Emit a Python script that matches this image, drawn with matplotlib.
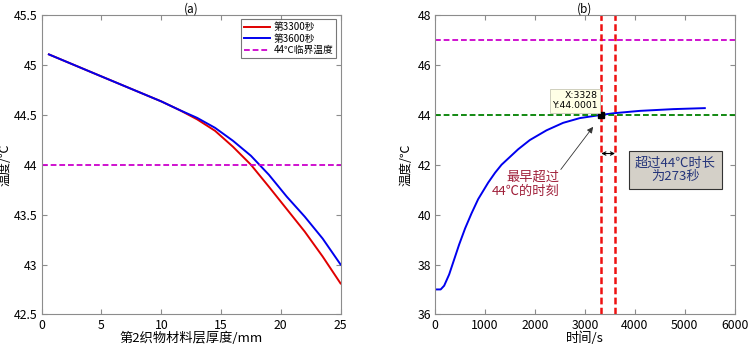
import numpy as np
import matplotlib.pyplot as plt
from matplotlib.ticker import FormatStrFormatter

plt.rcParams['font.family'] = ['Noto Sans CJK SC', 'DejaVu Sans']
plt.rcParams['axes.unicode_minus'] = False

# (a) temperature across layer 2 thickness
thick = [0.6, 5, 10, 11.5, 13, 14.5, 16, 17.5, 19, 20.5, 22, 23.5, 25]
temp_3300 = [45.106, 44.885, 44.635, 44.55, 44.455, 44.34, 44.18, 44.0, 43.78,
             43.555, 43.33, 43.08, 42.81]
temp_3600 = [45.106, 44.885, 44.635, 44.55, 44.47, 44.37, 44.24, 44.09, 43.90,
             43.68, 43.48, 43.26, 43.00]
crit_a = 44

# (b) temperature over time
t = [0, 60, 110, 180, 280, 380, 480, 600, 728, 861, 1061, 1200, 1329, 1662, 1896,
     2230, 2563, 2897, 3328, 3600, 4100, 4770, 5400]
temp_t = [37.0, 37.0, 37.0, 37.15, 37.6, 38.2, 38.8, 39.45, 40.05, 40.62, 41.28,
          41.68, 42.0, 42.62, 42.99, 43.38, 43.68, 43.87, 44.0, 44.07, 44.16,
          44.23, 44.27]
t_first = 3328
t_end = 3601
y_tip = 44.0001
crit_b = 44
upper_b = 47

fig = plt.figure(figsize=(7.49, 3.47), dpi=100)
ax1 = fig.add_axes([0.0557, 0.094, 0.399, 0.8625])
ax2 = fig.add_axes([0.581, 0.094, 0.400, 0.8625])

def style(ax):
    for s in ax.spines.values():
        s.set_color('#8c8c8c')
        s.set_linewidth(0.8)
    ax.tick_params(direction='in', top=True, right=True, length=3.5,
                   color='#8c8c8c', labelsize=8.8, pad=3)

dash_h = (0, (3.2, 1.6))
dash_v = (0, (2.7, 1.35))

ax1.plot(thick, temp_3300, color='#e00000', lw=1.4, label='第3300秒')
ax1.plot(thick, temp_3600, color='#0000ee', lw=1.4, label='第3600秒')
ax1.axhline(crit_a, color='#cc00cc', lw=1.3, ls=dash_h, label='44℃临界温度')
ax1.set_xlim(0, 25)
ax1.set_ylim(42.5, 45.5)
ax1.set_yticks(np.arange(42.5, 45.51, 0.5))
ax1.yaxis.set_major_formatter(FormatStrFormatter('%g'))
ax1.set_xlabel('第2织物材料层厚度/mm', fontsize=9.5, labelpad=0)
ax1.set_ylabel('温度/℃', fontsize=9)
ax1.yaxis.set_label_coords(-0.1, 0.5)
ax1.set_title('(a)', fontsize=8.5, pad=2)
leg = ax1.legend(loc='upper right', fontsize=7, handlelength=2.6, borderpad=0.3,
                 labelspacing=0.15, handletextpad=0.4, fancybox=False,
                 borderaxespad=0.45)
leg.get_frame().set_edgecolor('#555555')
leg.get_frame().set_linewidth(0.8)
style(ax1)

ax2.plot(t, temp_t, color='#0000ee', lw=1.4)
ax2.axhline(upper_b, color='#cc00cc', lw=1.3, ls=dash_h)
ax2.axhline(crit_b, color='#008000', lw=1.3, ls=dash_h)
ax2.axvline(t_first, color='#ee1111', lw=1.8, ls=dash_v)
ax2.axvline(t_end, color='#ee1111', lw=1.8, ls=dash_v)
ax2.plot([t_first], [y_tip], marker='s', color='black', ms=4)
ax2.annotate('', xy=(t_end, 42.45), xytext=(t_first, 42.45),
             arrowprops=dict(arrowstyle='<->', color='black', lw=0.8,
                             shrinkA=0, shrinkB=0, mutation_scale=6))
ax2.annotate('', xy=(3163, 43.52), xytext=(2516, 41.81),
             arrowprops=dict(arrowstyle='-|>', color='#333333', lw=0.6,
                             shrinkA=0, shrinkB=0, mutation_scale=9))
ax2.text(2483, 41.22, '最早超过\n44℃的时刻', fontsize=9.5, color='#a0203a',
         ha='right', va='center', multialignment='right', linespacing=1.05)
ax2.text(4812, 41.79, '超过44℃时长\n为273秒', fontsize=9.5, color='#25357a',
         ha='center', va='center', linespacing=1.0,
         bbox=dict(boxstyle='square,pad=0.45', fc='#d4d0c8', ec='#333333', lw=0.8))
ax2.text(3250, 44.18, 'X:3328\nY:44.0001', fontsize=6.7, ha='right', va='bottom',
         linespacing=1.15, family=['DejaVu Sans'],
         bbox=dict(boxstyle='square,pad=0.25', fc='#ffffe6', ec='#c8c8b4', lw=0.6))
ax2.set_xlim(0, 6000)
ax2.set_ylim(36, 48)
ax2.set_xticks(np.arange(0, 6001, 1000))
ax2.set_yticks(np.arange(36, 48.1, 2))
ax2.set_xlabel('时间/s', fontsize=9.5, labelpad=0)
ax2.set_ylabel('温度/℃', fontsize=9)
ax2.yaxis.set_label_coords(-0.074, 0.5)
ax2.set_title('(b)', fontsize=8.5, pad=2)
style(ax2)

fig.savefig('out.png', dpi=100)
